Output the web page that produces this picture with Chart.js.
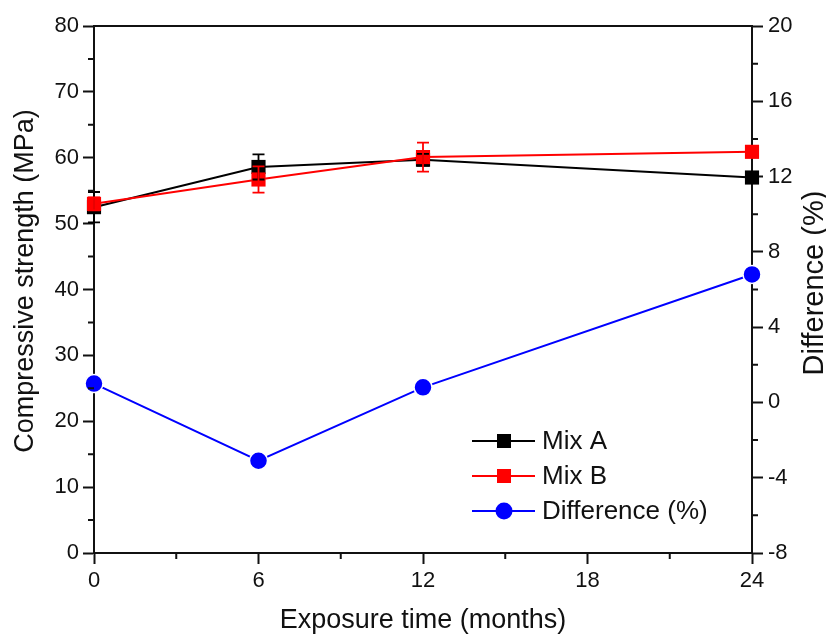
<!DOCTYPE html>
<html>
<head>
<meta charset="utf-8">
<title>Compressive strength vs exposure time</title>
<script src="https://cdn.jsdelivr.net/npm/chart.js@4/dist/chart.umd.min.js"></script>
<style>
    html, body { margin: 0; padding: 0; background: #fff; }
    #wrap { width: 826px; height: 637px; position: relative; }
</style>
</head>
<body>
<div id="wrap"><canvas id="strengthChart"></canvas></div>
<script>
// Exposure time (months)
const months = [0, 6, 12, 24];

// Compressive strength (MPa) with standard deviation
const mixA = [52.5, 58.6, 59.7, 57.0];
const mixAErr = [2.3, 1.9, 0.9, 0.5];
const mixB = [53.0, 56.7, 60.1, 60.9];
const mixBErr = [1.0, 2.0, 2.2, 0.6];

// Difference between the mixes (%)
const difference = [1.0, -3.1, 0.8, 6.8];

const xMajorTicks = [0, 6, 12, 18, 24];
const xMinorTicks = [3, 9, 15, 21];
const yLeftMinor = [5, 15, 25, 35, 45, 55, 65, 75];
const yRightMinor = [-6, -2, 2, 6, 10, 14, 18];

const FONT = "'Liberation Sans', Arial, sans-serif";
const INK = '#111';

Chart.defaults.font.family = FONT;
Chart.defaults.color = INK;

function toPoints(xs, ys) {
    return xs.map(function(x, i) { return { x: x, y: ys[i] }; });
}

// Error bars, minor ticks, top frame line, axis titles and legend
const extrasPlugin = {
    id: 'extras',
    afterDatasetsDraw: function(chart) {
        const ctx = chart.ctx;
        const x = chart.scales.x;
        const y = chart.scales.y;
        const sets = [
            { values: mixA, errs: mixAErr, color: '#000' },
            { values: mixB, errs: mixBErr, color: '#ff0000' }
        ];
        ctx.save();
        ctx.lineWidth = 1.8;
        sets.forEach(function(s) {
            ctx.strokeStyle = s.color;
            s.values.forEach(function(v, i) {
                const px = x.getPixelForValue(months[i]);
                const top = y.getPixelForValue(v + s.errs[i]);
                const bot = y.getPixelForValue(v - s.errs[i]);
                ctx.beginPath();
                ctx.moveTo(px, top); ctx.lineTo(px, bot);
                ctx.moveTo(px - 6, top); ctx.lineTo(px + 6, top);
                ctx.moveTo(px - 6, bot); ctx.lineTo(px + 6, bot);
                ctx.stroke();
            });
        });
        ctx.restore();
    },
    afterDraw: function(chart) {
        const ctx = chart.ctx;
        const area = chart.chartArea;
        const x = chart.scales.x;
        const y = chart.scales.y;
        const y1 = chart.scales.y1;
        ctx.save();
        ctx.strokeStyle = INK;
        ctx.lineWidth = 2;

        // top frame
        ctx.beginPath();
        ctx.moveTo(area.left - 1, area.top);
        ctx.lineTo(area.right + 1, area.top);
        ctx.stroke();

        // minor ticks
        ctx.beginPath();
        xMinorTicks.forEach(function(v) {
            const px = x.getPixelForValue(v);
            ctx.moveTo(px, area.bottom); ctx.lineTo(px, area.bottom + 6);
        });
        yLeftMinor.forEach(function(v) {
            const py = y.getPixelForValue(v);
            ctx.moveTo(area.left, py); ctx.lineTo(area.left - 6, py);
        });
        yRightMinor.forEach(function(v) {
            const py = y1.getPixelForValue(v);
            ctx.moveTo(area.right, py); ctx.lineTo(area.right + 6, py);
        });
        ctx.stroke();

        // vertical axis titles, both reading bottom to top
        ctx.fillStyle = INK;
        ctx.textAlign = 'center';
        ctx.textBaseline = 'middle';
        ctx.font = '27px ' + FONT;
        ctx.translate(26, 281);
        ctx.rotate(-Math.PI / 2);
        ctx.fillText('Compressive strength (MPa)', 0, 0);
        ctx.setTransform(1, 0, 0, 1, 0, 0);

        ctx.font = '29px ' + FONT;
        ctx.translate(815, 283);
        ctx.rotate(-Math.PI / 2);
        ctx.fillText('Difference (%)', 0, 0);
        ctx.setTransform(1, 0, 0, 1, 0, 0);

        // legend: line sample with marker in the middle
        const rows = [
            { label: 'Mix A', color: '#000', shape: 'rect' },
            { label: 'Mix B', color: '#ff0000', shape: 'rect' },
            { label: 'Difference (%)', color: '#0000ff', shape: 'circle' }
        ];
        ctx.font = '26px ' + FONT;
        ctx.textAlign = 'left';
        rows.forEach(function(r, i) {
            const ly = 441 + i * 35;
            ctx.strokeStyle = r.color;
            ctx.lineWidth = 1.8;
            ctx.beginPath();
            ctx.moveTo(472, ly); ctx.lineTo(535, ly);
            ctx.stroke();
            ctx.fillStyle = r.color;
            ctx.beginPath();
            if (r.shape === 'rect') {
                ctx.rect(497, ly - 7, 14, 14);
            } else {
                ctx.arc(504, ly, 8.5, 0, Math.PI * 2);
            }
            ctx.fill();
            ctx.fillStyle = INK;
            ctx.fillText(r.label, 542, ly + 1);
        });
        ctx.restore();
    }
};

const ctx = document.getElementById('strengthChart').getContext('2d');

new Chart(ctx, {
    type: 'line',
    data: {
        datasets: [
            {
                label: 'Mix A',
                data: toPoints(months, mixA),
                yAxisID: 'y',
                borderColor: '#000',
                backgroundColor: '#000',
                borderWidth: 2,
                pointStyle: 'rect',
                pointRadius: 10,
                pointBorderWidth: 0,
                order: 1
            },
            {
                label: 'Mix B',
                data: toPoints(months, mixB),
                yAxisID: 'y',
                borderColor: '#ff0000',
                backgroundColor: '#ff0000',
                borderWidth: 2,
                pointStyle: 'rect',
                pointRadius: 10,
                pointBorderWidth: 0,
                order: 0
            },
            {
                label: 'Difference (%)',
                data: toPoints(months, difference),
                yAxisID: 'y1',
                borderColor: '#0000ff',
                backgroundColor: '#0000ff',
                borderWidth: 2,
                pointStyle: 'circle',
                pointRadius: 9,
                pointBorderColor: '#fff',
                pointBorderWidth: 1.5,
                order: 2
            }
        ]
    },
    options: {
        responsive: true,
        maintainAspectRatio: false,
        animation: false,
        clip: false,
        layout: { padding: { top: 26, left: 0, right: 0, bottom: 0 } },
        plugins: {
            legend: { display: false },
            tooltip: { enabled: false }
        },
        scales: {
            x: {
                type: 'linear',
                min: 0,
                max: 24,
                afterBuildTicks: function(scale) {
                    scale.ticks = xMajorTicks.map(function(v) { return { value: v }; });
                },
                grid: { display: true, drawOnChartArea: false, tickLength: 11, tickWidth: 2, tickColor: INK },
                border: { display: true, color: INK, width: 2 },
                ticks: { font: { size: 22 }, padding: 4, maxRotation: 0 },
                title: { display: true, text: 'Exposure time (months)', font: { size: 27 }, padding: { top: 4, bottom: 0 } },
                afterFit: function(scale) { scale.height = 84; }
            },
            y: {
                position: 'left',
                min: 0,
                max: 80,
                ticks: { stepSize: 10, font: { size: 22 }, padding: 4 },
                grid: { display: true, drawOnChartArea: false, tickLength: 11, tickWidth: 2, tickColor: INK },
                border: { display: true, color: INK, width: 2 },
                afterFit: function(scale) { scale.width = 94; }
            },
            y1: {
                position: 'right',
                min: -8,
                max: 20,
                ticks: { stepSize: 4, font: { size: 22 }, padding: 5 },
                grid: { display: true, drawOnChartArea: false, tickLength: 11, tickWidth: 2, tickColor: INK },
                border: { display: true, color: INK, width: 2 },
                afterFit: function(scale) { scale.width = 74; }
            }
        }
    },
    plugins: [extrasPlugin]
});
</script>
</body>
</html>
